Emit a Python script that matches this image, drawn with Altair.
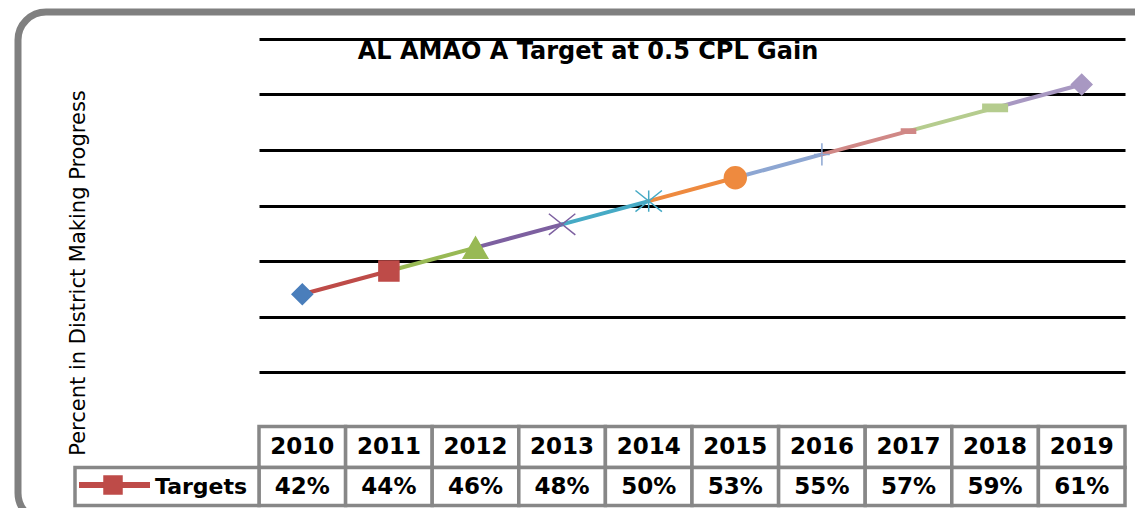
import altair as alt
import pandas as pd

# ---------------- data ----------------
YEARS = [2010, 2011, 2012, 2013, 2014, 2015, 2016, 2017, 2018, 2019]
TARGETS = [42.0, 44.1, 46.2, 48.3, 50.4, 52.5, 54.6, 56.7, 58.8, 60.9]
TABLE_LABELS = ["42%", "44%", "46%", "48%", "50%", "53%", "55%", "57%", "59%", "61%"]
SERIES_NAME = "Targets"
TITLE = "AL AMAO A Target at 0.5 CPL Gain"
Y_TITLE = "Percent in District Making Progress"
Y_DOMAIN = [35, 65]
Y_GRID = [35, 40, 45, 50, 55, 60, 65]

# ---------------- styles ----------------
POINT_COLORS = ["#4A7EBB", "#BE4B48", "#98B954", "#7D60A0", "#46AAC5",
                "#EE8A3F", "#8DA6D2", "#D08886", "#B5CC8E", "#A898C2"]
X_PATH = "M-1,-0.8L1,0.8M-1,0.8L1,-0.8"
STAR_PATH = "M-1,-0.8L1,0.8M-1,0.8L1,-0.8M0,-0.8L0,0.8"
PLUS_PATH = "M-0.7,0L0.7,0M0,-1L0,1"
SHORTDASH_PATH = "M-1,-0.3L1,-0.3L1,0.3L-1,0.3Z"
DASH_PATH = "M-1,-0.3L1,-0.3L1,0.3L-1,0.3Z"
MARKER_SHAPES = ["diamond", "square", "triangle-up", X_PATH, STAR_PATH,
                 "circle", PLUS_PATH, SHORTDASH_PATH, DASH_PATH, "diamond"]
MARKER_SIZES = [420, 400, 600, 700, 700, 480, 500, 200, 600, 420]
LEGEND_COLOR = "#BE4B48"
GRID_COLOR = "#000000"
TABLE_BORDER = "#878787"
FRAME_COLOR = "#808080"
FONT = "DejaVu Sans"

W, H = 866, 333
PAD = {"left": 251, "top": 31, "right": 10, "bottom": 136}
OX, OY = 259, 39  # page coords of plot origin


def px(v):
    return v - OX


def py(v):
    return v - OY


xscale = alt.Scale(domain=[YEARS[0] - 0.5, YEARS[-1] + 0.5], nice=False, zero=False)
yscale = alt.Scale(domain=Y_DOMAIN, nice=False, zero=False)
yaxis = alt.Axis(values=Y_GRID, grid=True, gridColor=GRID_COLOR, gridWidth=3,
                 labels=False, ticks=False, domain=False, title=None)

pts = pd.DataFrame({
    "year": YEARS,
    "target": TARGETS,
    "label": TABLE_LABELS,
    "col": POINT_COLORS,
    "shape": MARKER_SHAPES,
    "sz": MARKER_SIZES,
})

segs = pd.DataFrame({
    "x0": YEARS[:-1],
    "x1": YEARS[1:],
    "y0": TARGETS[:-1],
    "y1": TARGETS[1:],
    "col": POINT_COLORS[1:],
})

one = pd.DataFrame({"t": [TITLE], "yt": [Y_TITLE], "s": [SERIES_NAME]})

frame = alt.Chart(one).mark_rect(
    fillOpacity=0, stroke=FRAME_COLOR, strokeWidth=7, cornerRadius=28
).encode(
    x=alt.value(px(18)), x2=alt.value(px(1170)),
    y=alt.value(py(12)), y2=alt.value(py(521)),
)

segments = alt.Chart(segs).mark_rule(strokeWidth=4, strokeCap="round").encode(
    x=alt.X("x0:Q", scale=xscale, axis=None),
    x2="x1:Q",
    y=alt.Y("y0:Q", scale=yscale, axis=yaxis),
    y2="y1:Q",
    color=alt.Color("col:N", scale=None),
)

markers = alt.Chart(pts).mark_point(filled=True, strokeWidth=1.5, opacity=1).encode(
    x=alt.X("year:Q", scale=xscale, axis=None),
    y=alt.Y("target:Q", scale=yscale, axis=yaxis),
    shape=alt.Shape("shape:N", scale=None),
    size=alt.Size("sz:Q", scale=None),
    color=alt.Color("col:N", scale=None),
    stroke=alt.Stroke("col:N", scale=None),
)

# ---------------- data table ----------------
cells = alt.Chart(pts).transform_calculate(
    a="datum.year - 0.5", b="datum.year + 0.5"
)
header_cells = cells.mark_rect(fill="white", stroke=TABLE_BORDER, strokeWidth=3.5).encode(
    x=alt.X("a:Q", scale=xscale, axis=None), x2="b:Q",
    y=alt.value(py(426.5)), y2=alt.value(py(467.5)),
)
value_cells = cells.mark_rect(fill="white", stroke=TABLE_BORDER, strokeWidth=3.5).encode(
    x=alt.X("a:Q", scale=xscale, axis=None), x2="b:Q",
    y=alt.value(py(467.5)), y2=alt.value(py(505.5)),
)
legend_cell = alt.Chart(one).mark_rect(fill="white", stroke=TABLE_BORDER, strokeWidth=3.5).encode(
    x=alt.value(px(75)), x2=alt.value(px(259)),
    y=alt.value(py(467.5)), y2=alt.value(py(505.5)),
)
header_text = alt.Chart(pts).mark_text(
    font=FONT, fontSize=23, fontWeight="bold", color="#000000", baseline="middle"
).encode(
    x=alt.X("year:Q", scale=xscale, axis=None),
    y=alt.value(py(447)),
    text="year:N",
)
value_text = alt.Chart(pts).mark_text(
    font=FONT, fontSize=23, fontWeight="bold", color="#000000", baseline="middle"
).encode(
    x=alt.X("year:Q", scale=xscale, axis=None),
    y=alt.value(py(487)),
    text="label:N",
)
legend_line = alt.Chart(one).mark_rule(strokeWidth=6, color=LEGEND_COLOR).encode(
    x=alt.value(px(79)), x2=alt.value(px(150)), y=alt.value(py(485)),
)
legend_sq = alt.Chart(one).mark_point(
    shape="square", filled=True, size=380, color=LEGEND_COLOR, opacity=1
).encode(x=alt.value(px(113)), y=alt.value(py(485)))
legend_text = alt.Chart(one).mark_text(
    font=FONT, fontSize=22, fontWeight="bold", color="#000000", align="left", baseline="middle"
).encode(x=alt.value(px(155)), y=alt.value(py(487)), text="s:N")

# ---------------- titles ----------------
title = alt.Chart(one).mark_text(
    font=FONT, fontSize=24, fontWeight="bold", color="#000000", baseline="middle"
).encode(x=alt.value(px(588)), y=alt.value(py(51.5)), text="t:N")

ytitle = alt.Chart(one).mark_text(
    font=FONT, fontSize=21, color="#000000", angle=270, baseline="middle"
).encode(x=alt.value(px(79)), y=alt.value(py(273)), text="yt:N")

chart = alt.layer(
    frame, header_cells, value_cells, legend_cell,
    segments, markers,
    header_text, value_text, legend_line, legend_sq, legend_text,
    title, ytitle,
).properties(
    width=W, height=H,
    padding=PAD,
    autosize=alt.AutoSizeParams(type="none"),
    background="white",
).configure_view(strokeWidth=0)

chart.save("out.html", embed_options={"renderer": "svg", "actions": False})
